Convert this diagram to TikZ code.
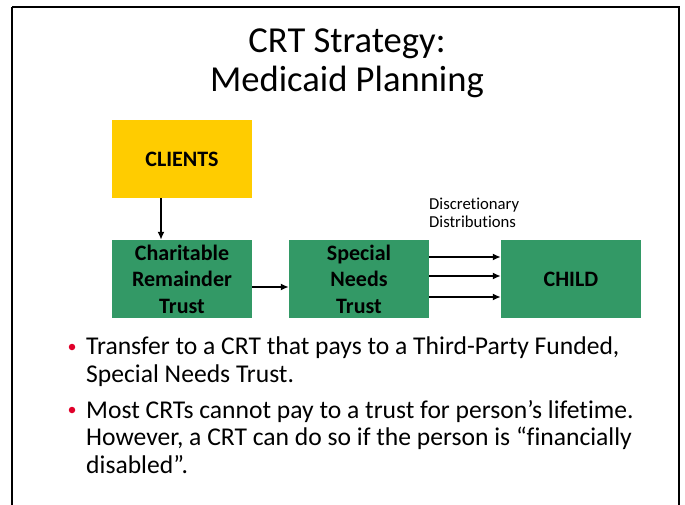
\documentclass[tikz,border=0pt]{standalone}
\usepackage{fontspec}
\setmainfont[Ligatures=NoCommon]{Carlito}
\usetikzlibrary{arrows.meta}
\definecolor{boxgreen}{HTML}{339966}
\definecolor{boxyellow}{HTML}{FFCC00}
\definecolor{bulletred}{HTML}{E0002A}
\tikzset{
  box/.style={rectangle, draw=none, minimum width=140pt, minimum height=78pt, inner sep=0pt, align=center,
    font=\fontsize{22}{26.5}\selectfont\bfseries},
  arr/.style={line width=1.8pt, -{Latex[length=8pt,width=7pt]}},
  bodytext/.style={anchor=base west, align=left, inner sep=0pt, font=\fontsize{25.6}{27.4}\selectfont},
  bulletdot/.style={circle, fill=bulletred, minimum size=6.5pt, inner sep=0pt},
}
\begin{document}
\begin{tikzpicture}[x=1pt,y=-1pt]
\useasboundingbox (0,0) rectangle (685,504);
\fill[white] (0,0) rectangle (685,504);
\draw[line width=2.5pt] (12,7) -- (679,7) -- (679,530);
\draw[line width=2.5pt] (12,7) -- (12,530);

\node[anchor=base, align=center, inner sep=0pt, font=\fontsize{36.6}{39}\selectfont] (title) at (347,91) {CRT Strategy:\\Medicaid Planning};

\node[box, fill=boxyellow] (clients) at (182,159) {CLIENTS};
\node[box, fill=boxgreen] (crt) at (182,279) {Charitable\\Remainder\\Trust};
\node[box, fill=boxgreen] (snt) at (359,279) {Special\\Needs\\Trust};
\node[box, fill=boxgreen] (child) at (571,279) {CHILD};

\draw[arr] ([xshift=-21pt]clients.south) -- ([xshift=-21pt]crt.north);
\draw[arr] ([yshift=-8pt]crt.east) -- ([yshift=-8pt]snt.west);
\draw[arr] ([yshift=22pt]snt.east) -- ([yshift=22pt]child.west);
\draw[arr] ([yshift=3pt]snt.east) -- ([yshift=3pt]child.west);
\draw[arr] ([yshift=-18pt]snt.east) -- ([yshift=-18pt]child.west);

\node[anchor=base west, align=left, inner sep=0pt, font=\fontsize{16.7}{17.5}\selectfont] (disc) at (429,227) {Discretionary\\Distributions};

\node[bulletdot] (b1) at (72,347) {};
\node[bodytext] (t1) at (86,382) {Transfer to a CRT that pays to a Third-Party Funded,\\Special Needs Trust.};
\node[bulletdot] (b2) at (72,410) {};
\node[bodytext] (t2) at (86,473) {Most CRTs cannot pay to a trust for person’s lifetime.\\However, a CRT can do so if the person is “financially\\disabled”.};
\end{tikzpicture}
\end{document}
